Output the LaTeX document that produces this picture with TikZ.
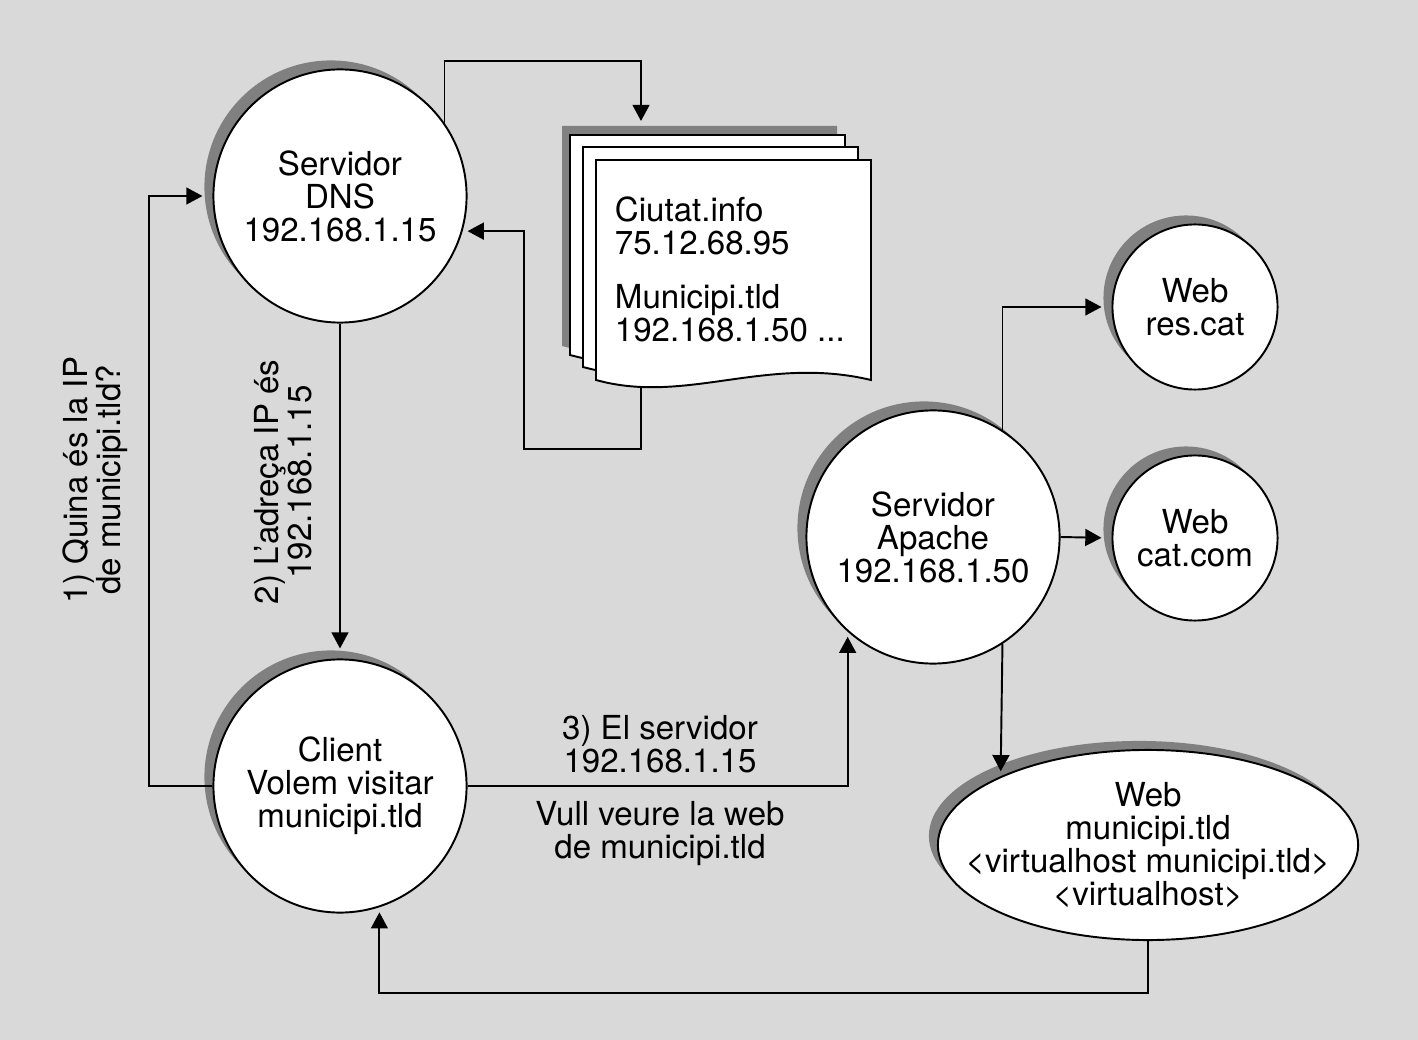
\documentclass[tikz,border=0pt]{standalone}
\usepackage{fontspec}
\setmainfont{TeX Gyre Heros}
\usepackage{tikz}
\usetikzlibrary{shapes,arrows.meta,positioning,shadows}
\definecolor{bggray}{RGB}{217,217,217}
\definecolor{shadowgray}{RGB}{128,128,128}
\newcommand{\pageshape}{(0,0) -- (275,0) -- (275,220) .. controls (170,195) and (90,245) .. (0,220) -- cycle}

\begin{document}
\begin{tikzpicture}[x=0.01cm, y=-0.01cm, line width=0.55pt, dropgray/.style = {drop shadow={shadow xshift=-0.09cm, shadow yshift=0.09cm, fill=shadowgray, opacity=1}}, server/.style = {circle, draw, fill=white, dropgray, minimum size=2.53cm, inner sep=1pt, align=center}, site/.style = {circle, draw, fill=white, dropgray, minimum size=1.65cm, inner sep=1pt, align=center}, vhost/.style = {ellipse, draw, fill=white, dropgray, minimum width=4.2cm, minimum height=1.9cm, inner xsep=-0.5cm, inner ysep=-0.1cm, align=center}, lbl/.style = {align=center, inner sep=0pt}, line/.style = {draw, -{Triangle[length=4.6pt,width=4.8pt]}, shorten >=0.05cm}, toshadow/.style = {shorten >=0.1cm}, font=\fontsize{9.4pt}{9.4pt}\selectfont]
					\path[fill=bggray] (0,0) rectangle (1418,1040);
					% stack of host pages
					\begin{scope}[shift={(562,126)}]
						\path[fill=shadowgray] \pageshape;
					\end{scope}
					\foreach \px/\py in {570/135,583/147,596/160}
					{
						\begin{scope}[shift={(\px,\py)}]
							\path[draw,fill=white] \pageshape;
						\end{scope}
					}
					\node[lbl,align=left,anchor=west] (hosts) at (614,269) {Ciutat.info\\75.12.68.95\\[0.21cm]Municipi.tld\\192.168.1.50 ...};
					\coordinate (stacktop) at (641,126);
					\coordinate (stackbot) at (641,387);
					
					\node[server] (dns) at (340,196) {Servidor\\DNS\\192.168.1.15};
					\node[server] (client) at (340,786) {Client\\Volem visitar\\municipi.tld};
					\node[server] (apache) at (933,537) {Servidor\\Apache\\192.168.1.50};
					\node[site] (rescat) at (1195,307) {Web\\res.cat};
					\node[site] (catcom) at (1195,538) {Web\\cat.com};
					\node[vhost] (webmun) at (1148,845) {Web\\municipi.tld\\<virtualhost municipi.tld>\\<virtualhost>};
					
					\node[lbl,rotate=90] (ask) at (95,480) {1) Quina és la IP\\de municipi.tld?};
					\node[lbl,rotate=90] (answer) at (283,482) {2) L’adreça IP és\\192.168.1.15};
					\node[lbl] (request) at (660,744) {3) El servidor\\192.168.1.15};
					\node[lbl] (want) at (660,834) {Vull veure la web\\de municipi.tld};
					
					\path[line,toshadow] (client.west) -- ++(-63,0) |- (dns.west);
					\path[line,toshadow] (dns.south) -- (client.north);
					\path[line] (dns.35) -- ++(0,-62) -| (stacktop);
					\path[line] (stackbot) -- ++(0,62) -- ++(-117,0) |- (dns.-16);
					\path[line] (client.east) -| (apache.228);
					\path[line,toshadow] (apache.57) |- (rescat.west);
					\path[line,toshadow] (apache.east) -- (catcom.west);
					\path[line] (apache.-57) -- (webmun.155);
					\path[line] (webmun.south) -- ++(0,52) -| (client.-72);
				\end{tikzpicture}
\end{document}
